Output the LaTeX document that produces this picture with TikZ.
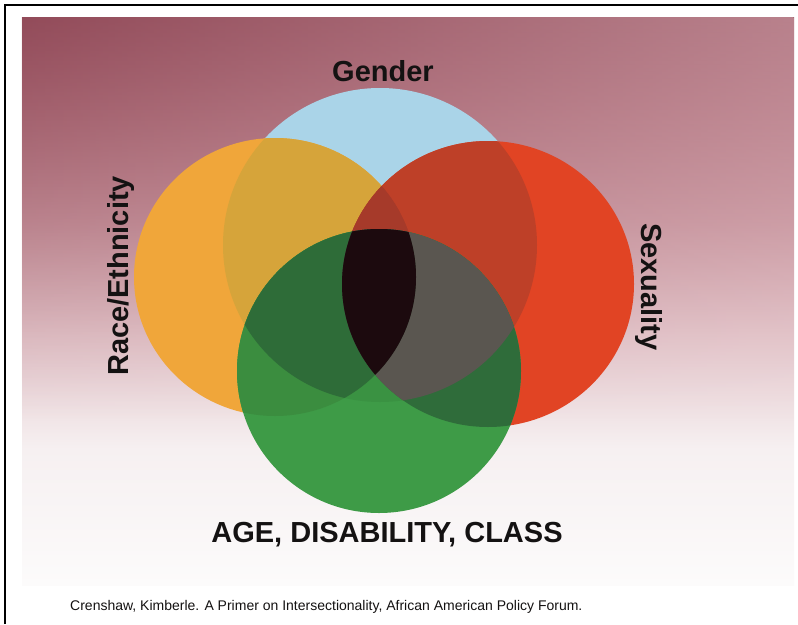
\documentclass[tikz,border=0pt]{standalone}
\usepackage{fontspec}
\setmainfont{Liberation Sans}
\usetikzlibrary{fadings}
\definecolor{cB}{RGB}{170,212,232}
\definecolor{cO}{RGB}{240,166,58}
\definecolor{cR}{RGB}{225,68,36}
\definecolor{cG}{RGB}{62,155,71}
\definecolor{cOB}{RGB}{214,164,58}
\definecolor{cRB}{RGB}{190,64,40}
\definecolor{cGB}{RGB}{58,146,66}
\definecolor{cOR}{RGB}{170,60,40}
\definecolor{cOG}{RGB}{59,141,63}
\definecolor{cRG}{RGB}{47,108,58}
\definecolor{cORB}{RGB}{166,58,42}
\definecolor{cOGB}{RGB}{46,108,56}
\definecolor{cRGB}{RGB}{90,86,80}
\definecolor{cORG}{RGB}{40,60,40}
\definecolor{cALL}{RGB}{28,10,14}
\definecolor{bgA}{RGB}{252,251,251}
\definecolor{bgB}{RGB}{246,240,241}
\definecolor{bgC}{RGB}{228,198,203}
\definecolor{bgD}{RGB}{202,152,161}
\definecolor{bgE}{RGB}{180,118,130}
\definecolor{bgF}{RGB}{160,92,106}
\definecolor{tintL}{RGB}{130,55,70}
\definecolor{tintR}{RGB}{215,175,182}
\definecolor{inkc}{RGB}{20,18,18}
\pgfdeclareverticalshading{bgshade}{100bp}{color(0bp)=(bgA); color(25bp)=(bgA); color(37bp)=(bgB); color(47bp)=(bgC); color(57bp)=(bgD); color(67bp)=(bgE); color(75bp)=(bgF); color(100bp)=(bgF)}
\newcommand{\cirB}{(380,245) ellipse [x radius=157pt, y radius=157pt]}
\newcommand{\cirO}{(275,277) ellipse [x radius=141pt, y radius=139pt]}
\newcommand{\cirR}{(488,284) ellipse [x radius=146pt, y radius=143pt]}
\newcommand{\cirG}{(379,371) ellipse [x radius=142pt, y radius=142pt]}
\begin{document}
\begin{tikzpicture}[x=1pt, y=-1pt,
  lab/.style={font=\fontsize{29}{30}\selectfont\bfseries, inner sep=0pt, text=inkc},
  cite/.style={font=\fontsize{14}{16}\selectfont, inner sep=0pt, text=inkc}]
\useasboundingbox (0,0) rectangle (798,624);
\fill[white] (0,0) rectangle (798,624);
\shade[shading=bgshade] (22,17) rectangle (794,585);
\shade[left color=tintL, right color=tintR, opacity=0.45, path fading=south] (22,17) rectangle (794,420);
\draw[black, line width=1.6pt] (5,624) -- (5,5) -- (798,5);
% singles
\fill[cB] \cirB;
\fill[cO] \cirO;
\fill[cR] \cirR;
\fill[cG] \cirG;
% pairs
\begin{scope}\clip \cirO; \fill[cOB] \cirB; \end{scope}
\begin{scope}\clip \cirR; \fill[cRB] \cirB; \end{scope}
\begin{scope}\clip \cirG; \fill[cGB] \cirB; \end{scope}
\begin{scope}\clip \cirO; \fill[cOR] \cirR; \end{scope}
\begin{scope}\clip \cirO; \fill[cOG] \cirG; \end{scope}
\begin{scope}\clip \cirR; \fill[cRG] \cirG; \end{scope}
% triples
\begin{scope}\clip \cirO; \clip \cirR; \fill[cORB] \cirB; \end{scope}
\begin{scope}\clip \cirO; \clip \cirG; \fill[cOGB] \cirB; \end{scope}
\begin{scope}\clip \cirR; \clip \cirG; \fill[cRGB] \cirB; \end{scope}
\begin{scope}\clip \cirO; \clip \cirR; \fill[cORG] \cirG; \end{scope}
% all four
\begin{scope}\clip \cirO; \clip \cirR; \clip \cirG; \fill[cALL] \cirB; \end{scope}
% labels
\node[lab] (gender) at (383,71) {Gender};
\node[lab, rotate=90] (race) at (121,276) {Race/Ethnicity};
\node[lab, rotate=-90] (sexuality) at (649,287) {Sexuality};
\node[lab] (age) at (387,535) {AGE, DISABILITY, CLASS};
\node[cite, anchor=base west] (citation) at (70,610) {Crenshaw, Kimberle. A Primer on Intersectionality, African American Policy Forum.};
\end{tikzpicture}
\end{document}
